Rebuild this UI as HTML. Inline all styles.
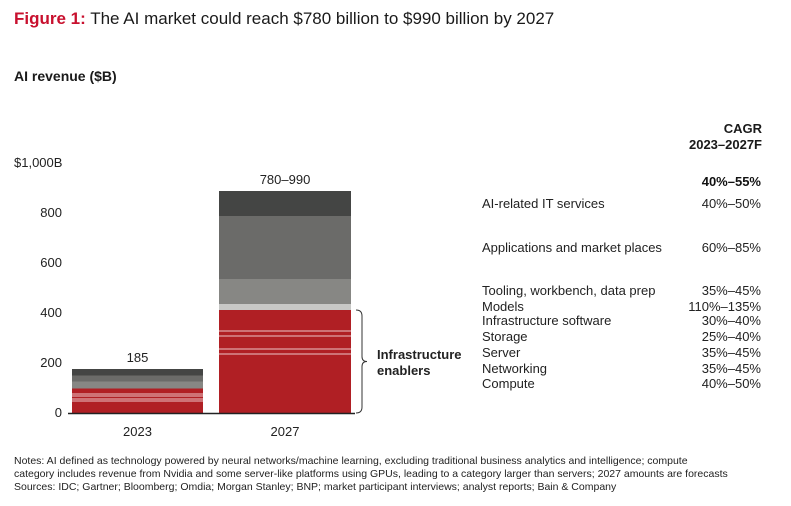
<!DOCTYPE html>
<html><head><meta charset="utf-8"><style>
body{margin:0;background:#fff;font-family:"Liberation Sans",sans-serif;color:#1a1a1a}
#w{position:relative;width:791px;height:506px;overflow:hidden}
.t{position:absolute;white-space:nowrap}
</style></head><body>
<div id="w">
<div class="t" style="left:14px;top:9px;font-size:17px"><b style="color:#c8102e">Figure 1:</b> The AI market could reach $780 billion to $990 billion by 2027</div>
<div class="t" style="left:14px;top:68px;font-size:14px;font-weight:bold">AI revenue ($B)</div>
<svg id="c" width="791" height="506" style="position:absolute;left:0;top:0"></svg>
<div class="t" style="left:660px;top:121px;width:102px;text-align:right;font-size:13px;font-weight:bold;line-height:16px">CAGR<br>2023–2027F</div>
<div class="t" style="left:14px;top:455px;font-size:10.5px;line-height:13px;color:#222">Notes: AI defined as technology powered by neural networks/machine learning, excluding traditional business analytics and intelligence; compute<br>category includes revenue from Nvidia and some server-like platforms using GPUs, leading to a category larger than servers; 2027 amounts are forecasts<br>Sources: IDC; Gartner; Bloomberg; Omdia; Morgan Stanley; BNP; market participant interviews; analyst reports; Bain &amp; Company</div>
</div>
<script>
const years=["2023","2027"];
const segNames=["Compute","Networking","Server","Storage","Infrastructure software","Models","Tooling, workbench, data prep","Applications and market places","AI-related IT services"];
const v2023=[48,8,12,8,22,0,28,24,26];
const v2027=[236,20,52,20,84,24,100,252,100];
const totals=["185","780–990"];
const yTicks=[0,200,400,600,800,1000];
const tickLabels=["0","200","400","600","800","$1,000B"];
const cagr=["40%–50%","35%–45%","35%–45%","25%–40%","30%–40%","110%–135%","35%–45%","60%–85%","40%–50%"];
const cagrTotal="40%–55%";
const labelY=[384,369,353,337,321,307,291,248,204];
const colors=["#b01f24","#b01f24","#b01f24","#b01f24","#b01f24","#c8c8c6","#878784","#6b6b69","#444544"];
const svg=document.getElementById('c');const NS="http://www.w3.org/2000/svg";
const y0=413,k=0.25;const Y=v=>y0-v*k;
const barX=[72,219],barW=[131,132];
function mk(t,a,txt){const e=document.createElementNS(NS,t);for(const n in a)e.setAttribute(n,a[n]);if(txt!=null)e.textContent=txt;svg.appendChild(e);return e;}
yTicks.forEach((t,i)=>{const e=mk('text',{x:i==5?14:62,y:Y(t)+4,'font-size':13,'text-anchor':i==5?'start':'end',fill:'#222'},tickLabels[i]);

});
[v2023,v2027].forEach((vals,b)=>{let cum=0;vals.forEach((v,i)=>{if(v<=0)return;const r=mk('rect',{x:barX[b],y:Y(cum+v),width:barW[b],height:v*k,fill:colors[i]});


if(i>0&&i<5){const l=mk('line',{x1:barX[b],x2:barX[b]+barW[b],y1:Y(cum),y2:Y(cum),stroke:'#fff','stroke-width':0.8});

}
cum+=v;});
const tot=vals.reduce((a,c)=>a+c,0);
const t=mk('text',{x:barX[b]+barW[b]/2,y:Y(tot)-7,'font-size':13,'text-anchor':'middle',fill:'#222'},totals[b]);


const xl=mk('text',{x:barX[b]+barW[b]/2,y:436,'font-size':13,'text-anchor':'middle',fill:'#222'},years[b]);

});
const ax=mk('line',{x1:68,x2:355,y1:y0+0.5,y2:y0+0.5,stroke:'#222','stroke-width':1.5});


const infraTop=Y(v2027.slice(0,5).reduce((a,c)=>a+c,0));
const br=mk('path',{d:`M356 ${infraTop} q6 0 6 6 V${(infraTop+y0)/2-5} q0 5 5 5 q-5 0 -5 5 V${y0-6} q0 6 -6 6`,fill:'none',stroke:'#333','stroke-width':1});


const bt=mk('text',{x:377,y:359,'font-size':13,'font-weight':'bold',fill:'#222'});


bt.innerHTML='<tspan x="377" dy="0">Infrastructure</tspan><tspan x="377" dy="16">enablers</tspan>';
segNames.forEach((n,i)=>{const a=mk('text',{x:482,y:labelY[i]+4,'font-size':13,fill:'#222'},n);


const c=mk('text',{x:761,y:labelY[i]+4,'font-size':13,'text-anchor':'end',fill:'#222'},cagr[i]);

});
const ct=mk('text',{x:761,y:186,'font-size':13,'font-weight':'bold','text-anchor':'end',fill:'#111'},cagrTotal);


</script>
</body></html>
